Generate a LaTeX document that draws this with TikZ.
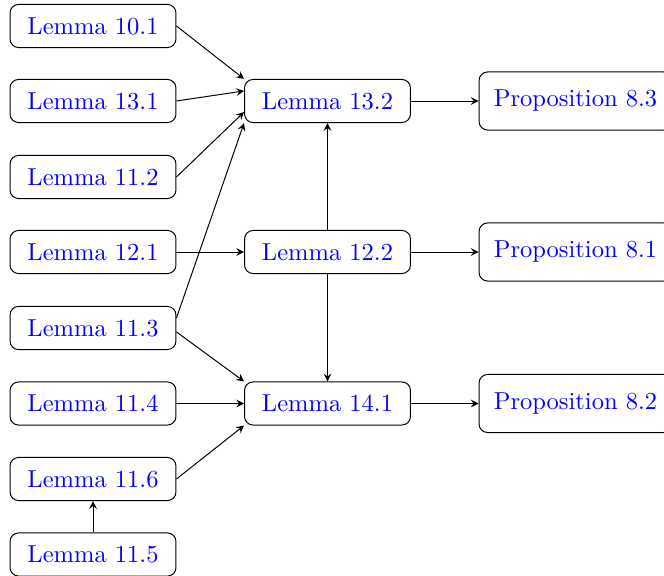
\documentclass[tikz,border=0pt]{standalone}
\usetikzlibrary{arrows}
\begin{document}
\begin{tikzpicture}[x=0.408pt,y=-0.408pt,
  lem/.style={draw,rounded corners=3.5pt,text=blue,inner sep=0pt,minimum width=67.7pt,minimum height=17.6pt},
  prop/.style={draw,rounded corners=3.5pt,text=blue,inner sep=0pt,minimum width=78.7pt,minimum height=23.7pt},
  arr/.style={->,>=stealth,line width=0.4pt}]
\useasboundingbox (0,0) rectangle (664,576);
\node[lem] (n101) at (93,26) {Lemma 10.1};
\node[lem] (n131) at (93,101) {Lemma 13.1};
\node[lem] (n112) at (93,177) {Lemma 11.2};
\node[lem] (n121) at (93,252) {Lemma 12.1};
\node[lem] (n113) at (93,328) {Lemma 11.3};
\node[lem] (n114) at (93,403.5) {Lemma 11.4};
\node[lem] (n116) at (93,479) {Lemma 11.6};
\node[lem] (n115) at (93,554.5) {Lemma 11.5};
\node[lem] (n132) at (327.5,101) {Lemma 13.2};
\node[lem] (n122) at (327.5,252) {Lemma 12.2};
\node[lem] (n141) at (327.5,403.5) {Lemma 14.1};
\node[prop] (p83) at (575.5,101) {Proposition 8.3};
\node[prop] (p81) at (575.5,252) {Proposition 8.1};
\node[prop] (p82) at (575.5,403.5) {Proposition 8.2};
\draw[arr] (n101.east) -- (n132.north west);
\draw[arr] (n131.east) -- ([yshift=4.1pt]n132.west);
\draw[arr] (n112.east) -- ([yshift=-4.5pt]n132.west);
\draw[arr] ([yshift=4.1pt]n113.east) -- (n132.south west);
\draw[arr] (n121.east) -- (n122.west);
\draw[arr] ([yshift=-1.6pt]n113.east) -- (n141.north west);
\draw[arr] (n114.east) -- (n141.west);
\draw[arr] (n116.east) -- (n141.south west);
\draw[arr] (n115.north) -- (n116.south);
\draw[arr] (n122.north) -- (n132.south);
\draw[arr] (n122.south) -- (n141.north);
\draw[arr] (n132.east) -- (p83.west);
\draw[arr] (n122.east) -- (p81.west);
\draw[arr] (n141.east) -- (p82.west);
\end{tikzpicture}
\end{document}
